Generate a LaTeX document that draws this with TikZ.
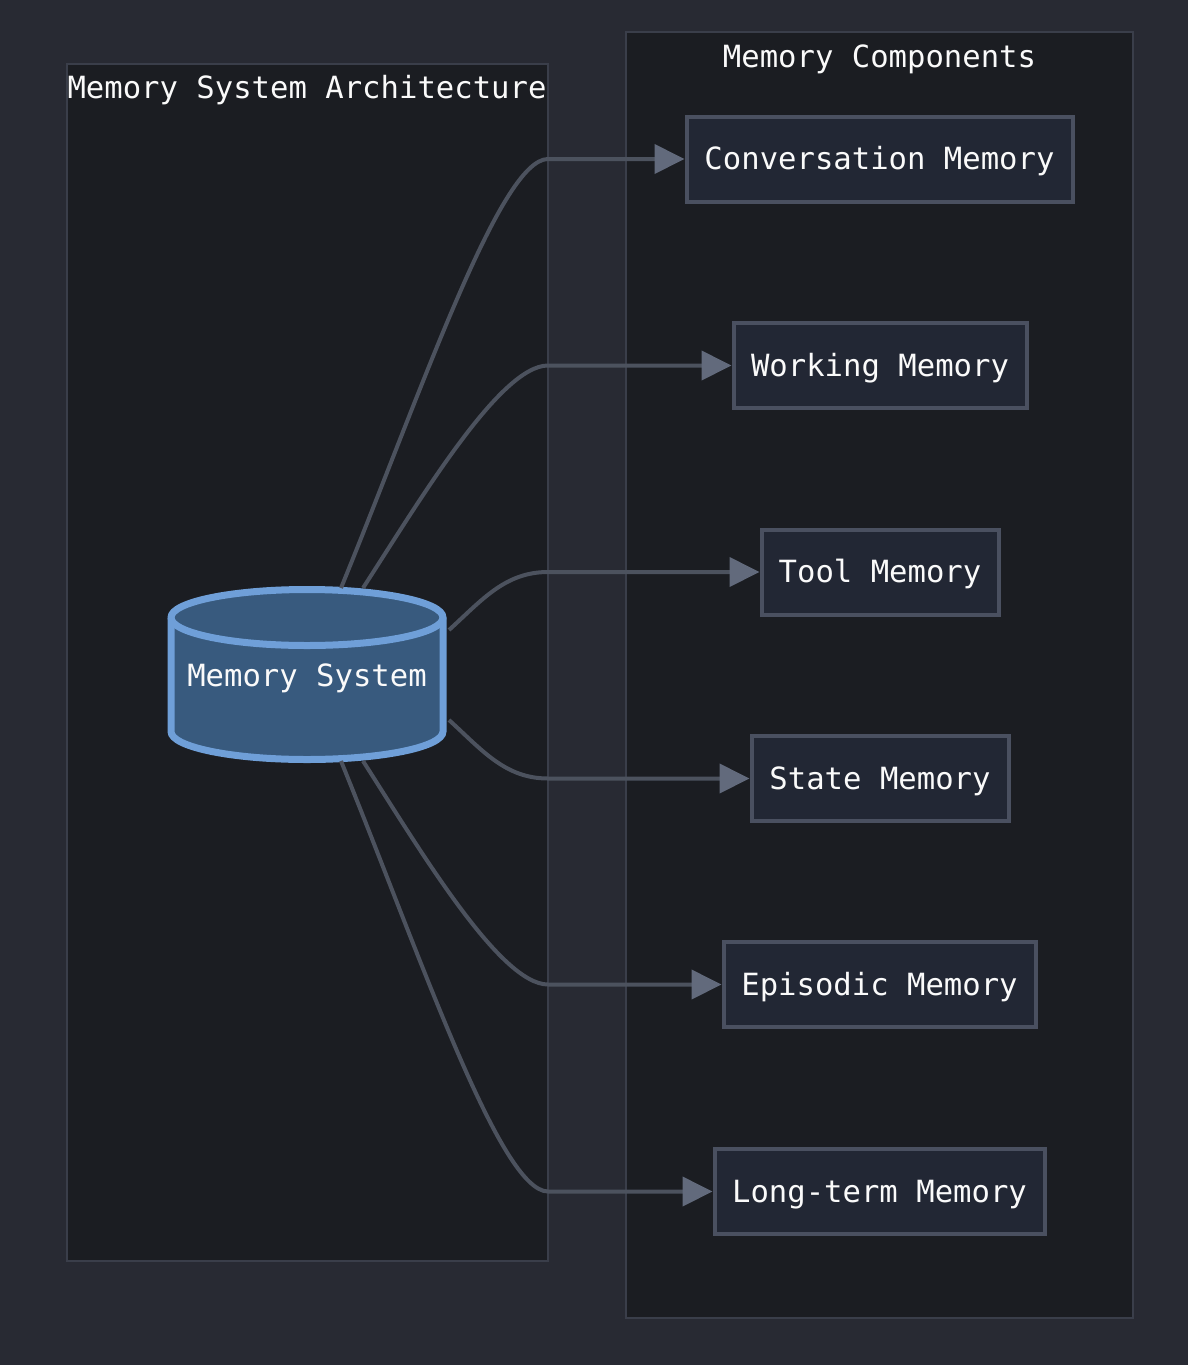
\documentclass[tikz,border=0pt]{standalone}
\usepackage{fontspec}
\setmainfont{DejaVu Sans Mono}
\usetikzlibrary{arrows.meta}
\definecolor{bgc}{HTML}{282A33}
\definecolor{clfill}{HTML}{1B1D22}
\definecolor{clline}{HTML}{3A3E4A}
\definecolor{ndfill}{HTML}{222734}
\definecolor{ndline}{HTML}{4A5060}
\definecolor{edgec}{HTML}{4C525E}
\definecolor{arrc}{HTML}{626A7C}
\definecolor{dbfill}{HTML}{385A7E}
\definecolor{dbline}{HTML}{6F9FD8}
\definecolor{txtc}{HTML}{FAFAFA}
\tikzset{
  x=1pt,y=1pt,
  cluster/.style={draw=clline,fill=clfill,line width=2.5pt},
  lbl/.style={text=txtc,font=\fontsize{30.6}{36}\selectfont,inner sep=0pt,text height=28pt,text depth=7pt},
  membox/.style={lbl,draw=ndline,fill=ndfill,line width=4pt,minimum height=85pt},
  conn/.style={draw=edgec,line width=4pt,-{Triangle[length=30pt,width=29pt,color=arrc]}},
}
\begin{document}
\begin{tikzpicture}
\useasboundingbox (0,0) rectangle (1188,-1365);
\fill[bgc] (0,0) rectangle (1188,-1365);
% clusters
\draw[cluster] (67,-64) rectangle (548,-1261);
\draw[cluster] (626,-32) rectangle (1133,-1318);
\node[lbl] (t1) at (307,-88) {Memory System Architecture};
\node[lbl] (t2) at (879.5,-57) {Memory Components};
% cylinder
\path[fill=dbfill,draw=dbline,line width=7pt]
  (171,-617.5) -- (171,-731.5)
  arc[start angle=180,end angle=360,x radius=136pt,y radius=28pt]
  -- (443,-617.5)
  arc[start angle=0,end angle=180,x radius=136pt,y radius=28pt] -- cycle;
\draw[dbline,line width=7pt] (171,-617.5)
  arc[start angle=180,end angle=360,x radius=136pt,y radius=28pt];
\node[lbl] (db) at (307,-676) {Memory System};
% memory nodes
\node[membox,minimum width=386pt] (conv) at (879.5,-159) {Conversation Memory};
\node[membox,minimum width=293pt] (work) at (880,-365.5) {Working Memory};
\node[membox,minimum width=237pt] (tool) at (880,-572) {Tool Memory};
\node[membox,minimum width=257pt] (state) at (880,-778.5) {State Memory};
\node[membox,minimum width=312pt] (epi) at (879.5,-984.5) {Episodic Memory};
\node[membox,minimum width=330pt] (long) at (879.5,-1191.5) {Long-term Memory};
% edge coordinates
\coordinate (s1) at (341,-588);
\coordinate (s2) at (363,-588);
\coordinate (s3) at (449,-630);
\coordinate (s4) at (449,-720);
\coordinate (s5) at (363,-761);
\coordinate (s6) at (341,-761);
\coordinate (b1) at (548,-159);
\coordinate (b2) at (548,-365.5);
\coordinate (b3) at (548,-572);
\coordinate (b4) at (548,-778.5);
\coordinate (b5) at (548,-984.5);
\coordinate (b6) at (548,-1191.5);
\draw[conn] (s1) .. controls (420,-395) and (500,-159) .. (b1) -- (conv.west);
\draw[conn] (s2) .. controls (420,-500) and (500,-365.5) .. (b2) -- (work.west);
\draw[conn] (s3) .. controls (482,-600) and (505,-572) .. (b3) -- (tool.west);
\draw[conn] (s4) .. controls (482,-750) and (505,-778.5) .. (b4) -- (state.west);
\draw[conn] (s5) .. controls (420,-850) and (500,-984.5) .. (b5) -- (epi.west);
\draw[conn] (s6) .. controls (420,-955) and (500,-1191.5) .. (b6) -- (long.west);
\end{tikzpicture}
\end{document}
